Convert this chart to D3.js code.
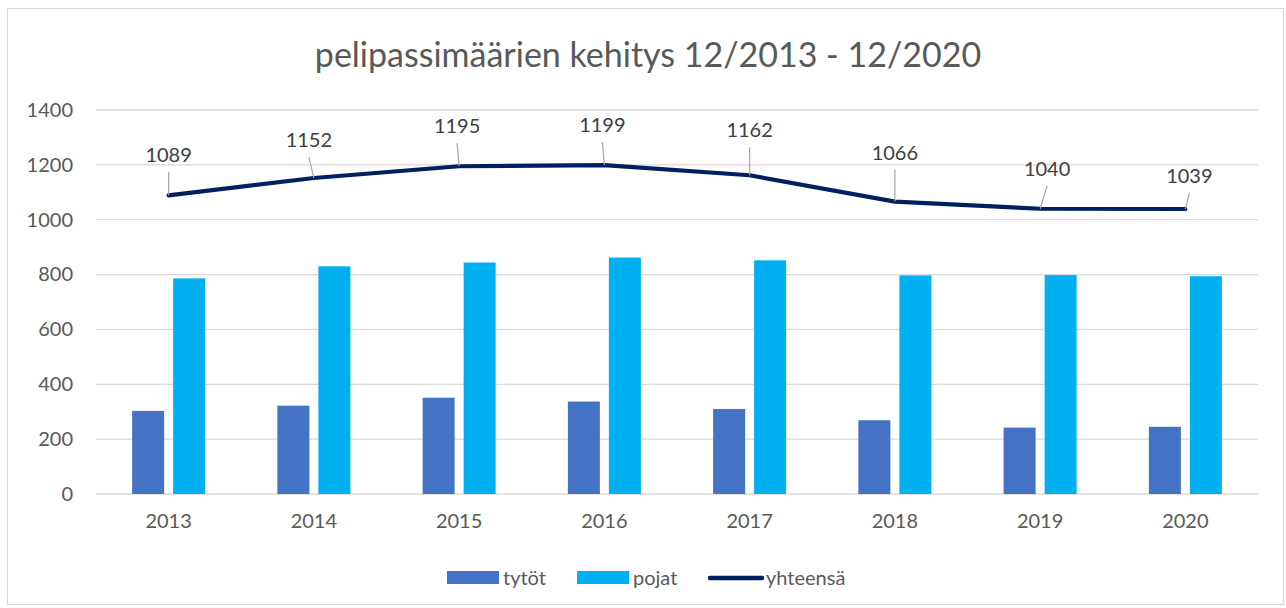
<!DOCTYPE html>
<html lang="fi">
<head>
<meta charset="utf-8">
<title>pelipassimäärien kehitys</title>
<script src="https://d3js.org/d3.v7.min.js"></script>
<style>
  body { margin: 0; background: #fff; }
  svg text { font-family: Lato, "Open Sans", sans-serif; }
</style>
</head>
<body>
<script>
// data
var years = ["2013", "2014", "2015", "2016", "2017", "2018", "2019", "2020"];
var tytot = [303, 322, 351, 337, 310, 269, 242, 245];
var pojat = [786, 830, 844, 862, 852, 797, 798, 794];
var yhteensa = [1089, 1152, 1195, 1199, 1162, 1066, 1040, 1039];
var yTicks = [0, 200, 400, 600, 800, 1000, 1200, 1400];
var seriesNames = ["tytöt", "pojat", "yhteensä"];
var colors = ["#4472C4", "#00B0F0", "#002060"];

var W = 1286, H = 608;
var margin = {top: 110, right: 28, bottom: 114, left: 96};
var width = W - margin.left - margin.right,
    height = H - margin.top - margin.bottom;

var svg = d3.select("body").append("svg")
    .attr("width", W)
    .attr("height", H);

// chart frame
svg.append("rect")
    .attr("x", 7.5).attr("y", 8.5)
    .attr("width", W - 10).attr("height", H - 12)
    .attr("fill", "#fff")
    .attr("stroke", "#d9d9d9");

svg.append("text")
    .attr("x", 648).attr("y", 67)
    .attr("text-anchor", "middle")
    .attr("font-size", "34px")
    .attr("fill", "#595959")
    .text("pelipassimäärien kehitys 12/2013 - 12/2020");

var g = svg.append("g")
    .attr("transform", "translate(" + margin.left + "," + margin.top + ")");

var x = d3.scaleBand().domain(years).range([0, width]);
var y = d3.scaleLinear().domain([0, 1400]).range([height, 0]);

// gridlines
g.append("g")
    .selectAll("line")
    .data(yTicks)
    .enter().append("line")
    .attr("x1", 0).attr("x2", width)
    .attr("y1", function(d){ return y(d); })
    .attr("y2", function(d){ return y(d); })
    .attr("stroke", "#d9d9d9")
    .attr("stroke-width", 1.3);

// y axis labels
var yAxis = g.append("g")
    .attr("transform", "translate(-23,0)")
    .call(d3.axisLeft(y).tickValues(yTicks).tickFormat(d3.format("d")).tickSize(0).tickPadding(0));
yAxis.select(".domain").remove();
yAxis.selectAll("text")
    .attr("font-size", "20px")
    .attr("font-family", "Lato, sans-serif")
    .attr("fill", "#595959");

// x axis labels
var xAxis = g.append("g")
    .attr("transform", "translate(0," + height + ")")
    .call(d3.axisBottom(x).tickSize(0).tickPadding(20));
xAxis.select(".domain").remove();
xAxis.selectAll("text")
    .attr("font-size", "20px")
    .attr("font-family", "Lato, sans-serif")
    .attr("fill", "#595959");

// bars
var barW = 32, gap = 9;
var bars = [tytot, pojat];
bars.forEach(function(vals, s){
  g.append("g")
    .selectAll("rect")
    .data(vals)
    .enter().append("rect")
    .attr("x", function(d, i){
      var c = x(years[i]) + x.bandwidth() / 2;
      return s === 0 ? c - gap / 2 - barW : c + gap / 2;
    })
    .attr("y", function(d){ return y(d); })
    .attr("width", barW)
    .attr("height", function(d){ return height - y(d); })
    .attr("fill", colors[s]);
});

// total line
var line = d3.line()
    .x(function(d, i){ return x(years[i]) + x.bandwidth() / 2; })
    .y(function(d){ return y(d); })
    .curve(d3.curveLinear);

g.append("path")
    .datum(yhteensa)
    .attr("d", line)
    .attr("fill", "none")
    .attr("stroke", colors[2])
    .attr("stroke-width", 4.2)
    .attr("stroke-linecap", "round")
    .attr("stroke-linejoin", "round");

// data labels with leader lines
var labelOffset = [33, 31, 33, 33, 38, 42, 33, 26];
var labelDx = [0, -5, -2, -2, 0, 0, 7, 4];
var lbl = g.append("g");
yhteensa.forEach(function(d, i){
  var cx = x(years[i]) + x.bandwidth() / 2, cy = y(d);
  var lx = cx + labelDx[i], ly = cy - labelOffset[i];
  lbl.append("line")
    .attr("x1", cx).attr("y1", cy)
    .attr("x2", lx).attr("y2", ly + 10)
    .attr("stroke", "#a6a6a6")
    .attr("stroke-width", 1.2);
  lbl.append("text")
    .attr("x", lx).attr("y", ly)
    .attr("text-anchor", "middle")
    .attr("font-size", "20px")
    .attr("fill", "#404040")
    .text(d);
});

// legend
var legend = svg.append("g").attr("transform", "translate(447,578)");
var legX = [0, 130, 261];
seriesNames.forEach(function(name, i){
  var lg = legend.append("g").attr("transform", "translate(" + legX[i] + ",0)");
  if (i < 2) {
    lg.append("rect")
      .attr("x", 0).attr("y", -7)
      .attr("width", 52).attr("height", 13)
      .attr("fill", colors[i]);
  } else {
    lg.append("line")
      .attr("x1", 2).attr("x2", 54)
      .attr("y1", 0).attr("y2", 0)
      .attr("stroke", colors[i])
      .attr("stroke-width", 4.5)
      .attr("stroke-linecap", "round");
  }
  lg.append("text")
    .attr("x", i < 2 ? 56 : 58).attr("y", 7)
    .attr("font-size", "20px")
    .attr("fill", "#595959")
    .text(name);
});
</script>
</body>
</html>
